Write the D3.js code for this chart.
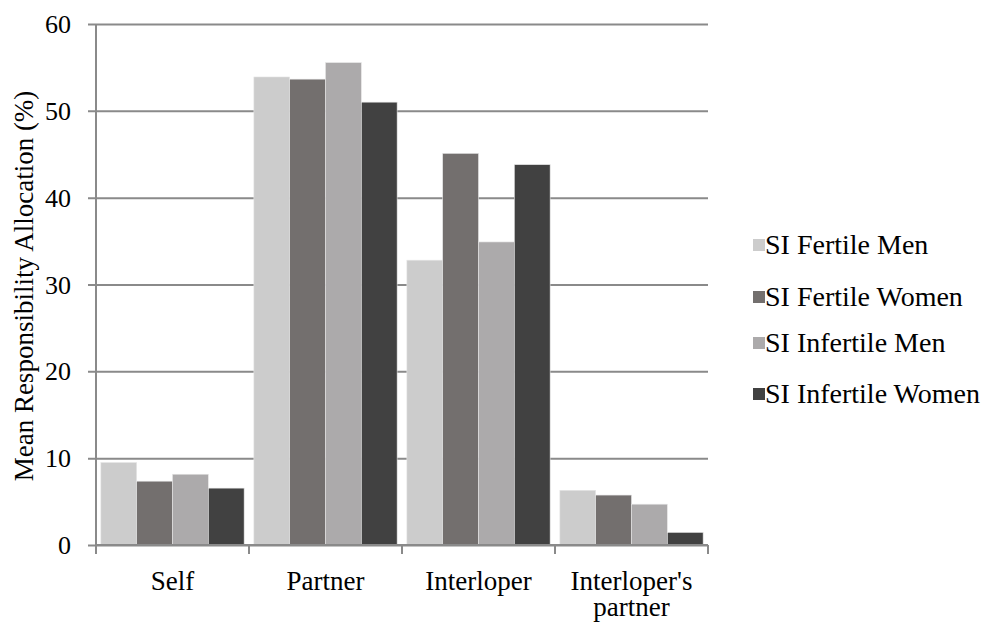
<!DOCTYPE html>
<html><head><meta charset="utf-8"><script src="https://cdn.jsdelivr.net/npm/d3@7"></script></head>
<body style="margin:0">
<svg id="chart" width="985" height="624"></svg>
<script>
const categories = ['Self', 'Partner', 'Interloper', "Interloper's partner"]
const seriesNames = ['SI Fertile Men', 'SI Fertile Women', 'SI Infertile Men', 'SI Infertile Women']
const seriesColors = ['#cccccc', '#736f6e', '#acaaab', '#414141']
const fertileMen = [9.5, 53.9, 32.8, 6.3]
const fertileWomen = [7.35, 53.65, 45.1, 5.75]
const infertileMen = [8.15, 55.55, 34.9, 4.7]
const infertileWomen = [6.55, 51.0, 43.8, 1.45]
const yTicks = [0, 10, 20, 30, 40, 50, 60]

const values = [fertileMen, fertileWomen, infertileMen, infertileWomen]
const FONT = '"Liberation Serif"'

const svg = d3.select('#chart')
const mLeft = 96, mRight = 708, mTop = 24, mBottom = 545

const x = d3.scaleBand().domain(categories).range([mLeft, mRight]).paddingInner(0).paddingOuter(0)
const xInner = d3.scaleBand().domain(seriesNames).range([0, x.bandwidth()]).paddingInner(0).paddingOuter(0.136)
const y = d3.scaleLinear().domain([0, 60]).range([mBottom, mTop])

// gridlines + y ticks (tick labels drawn separately below)
const yAxis = svg.append('g')
  .attr('transform', `translate(${mLeft},0)`)
  .call(d3.axisLeft(y).tickValues(yTicks).tickSize(8).tickFormat(''))
yAxis.select('.domain').remove()
yAxis.selectAll('.tick text').remove()
yAxis.selectAll('.tick line').attr('stroke', '#8a8a8a').attr('stroke-width', 2)
  .attr('x2', mRight - mLeft).attr('x1', -8)

svg.append('g').selectAll('text')
  .data(yTicks)
  .join('text')
  .attr('x', mLeft - 25)
  .attr('y', d => y(d) + 9)
  .attr('text-anchor', 'end')
  .attr('font-size', 26)
  .style('font-family', FONT)
  .text(d => d)

svg.append('line')
  .attr('x1', mLeft).attr('x2', mLeft).attr('y1', mTop).attr('y2', mBottom)
  .attr('stroke', '#8a8a8a').attr('stroke-width', 2)

// bars
const groups = svg.append('g').selectAll('g')
  .data(categories)
  .join('g')
  .attr('transform', d => `translate(${x(d)},0)`)

groups.selectAll('rect')
  .data((c, i) => seriesNames.map((s, j) => ({ s, v: values[j][i], color: seriesColors[j] })))
  .join('rect')
  .attr('x', d => xInner(d.s))
  .attr('width', xInner.bandwidth())
  .attr('y', d => y(d.v))
  .attr('height', d => mBottom - y(d.v))
  .attr('fill', d => d.color)
  .attr('stroke', '#e6e6e6')
  .attr('stroke-width', 0.6)

// x axis
svg.append('line')
  .attr('x1', mLeft).attr('x2', mRight).attr('y1', mBottom).attr('y2', mBottom)
  .attr('stroke', '#8a8a8a').attr('stroke-width', 2)

const bounds = categories.map(c => x(c)).concat([mRight])
svg.append('g').selectAll('line')
  .data(bounds)
  .join('line')
  .attr('x1', d => d).attr('x2', d => d)
  .attr('y1', mBottom).attr('y2', mBottom + 9)
  .attr('stroke', '#8a8a8a').attr('stroke-width', 2)

// category labels, one text per line
const catLines = [
  { c: 'Self', t: 'Self', row: 0 },
  { c: 'Partner', t: 'Partner', row: 0 },
  { c: 'Interloper', t: 'Interloper', row: 0 },
  { c: "Interloper's partner", t: "Interloper's", row: 0 },
  { c: "Interloper's partner", t: 'partner', row: 1 }
]
svg.append('g').selectAll('text')
  .data(catLines)
  .join('text')
  .attr('x', d => x(d.c) + x.bandwidth() / 2)
  .attr('y', d => 590 + d.row * 26)
  .attr('text-anchor', 'middle')
  .attr('font-size', 27)
  .style('font-family', FONT)
  .text(d => d.t)

// y title
svg.append('text')
  .attr('transform', 'translate(33,286) rotate(-90)')
  .attr('text-anchor', 'middle')
  .attr('font-size', 27)
  .style('font-family', FONT)
  .text('Mean Responsibility Allocation (%)')

// legend
const legendY = [245, 297, 343, 394]
const legend = svg.append('g').selectAll('g')
  .data(seriesNames)
  .join('g')
  .attr('transform', (d, i) => `translate(753,${legendY[i]})`)
legend.append('rect')
  .attr('x', 0).attr('y', -6).attr('width', 12).attr('height', 12)
  .attr('fill', (d, i) => seriesColors[i])
legend.append('text')
  .attr('x', 12).attr('y', 9)
  .attr('font-size', 28)
  .style('font-family', FONT)
  .text(d => d)
</script></body></html>
